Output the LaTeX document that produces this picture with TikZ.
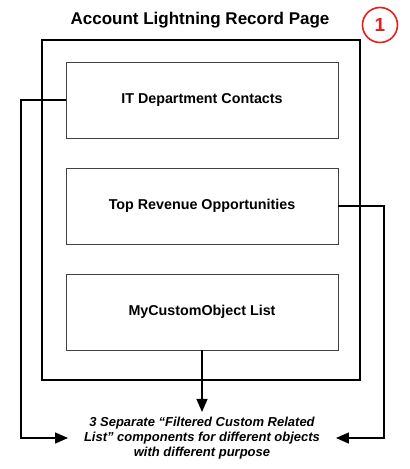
\documentclass[tikz,border=0pt]{standalone}
\usepackage{fontspec}
\setmainfont{Liberation Sans}
\usetikzlibrary{arrows.meta}
\definecolor{mred}{RGB}{230,30,30}
\begin{document}
\begin{tikzpicture}[x=1pt,y=-1pt,
  comp/.style={draw=black!75,line width=0.8pt,minimum width=272pt,minimum height=76pt,font=\bfseries\fontsize{14.3}{16}\selectfont},
  conn/.style={line width=1.3pt,-{Triangle[length=13pt,width=11pt]}}]
\useasboundingbox (0,0) rectangle (410,469);
\node[font=\bfseries\fontsize{17}{20}\selectfont] (title) at (200,20) {Account Lightning Record Page};
\node[circle,draw=mred,line width=1.6pt,minimum size=35pt,inner sep=0pt,text=mred,font=\bfseries\fontsize{19}{21}\selectfont] (num) at (380,25) {1};
\node[draw,line width=2.6pt,minimum width=318pt,minimum height=340pt] (page) at (201,210) {};
\node[comp] (b1) at (202,100) {IT Department Contacts};
\node[comp] (b2) at (202,206) {Top Revenue Opportunities};
\node[comp] (b3) at (202,312) {MyCustomObject List};
\node[align=center,inner sep=1pt,outer xsep=15pt,outer ysep=4pt,font=\bfseries\itshape\fontsize{13}{15}\selectfont] (note) at (202,438) {3 Separate “Filtered Custom Related\\List” components for different objects\\with different purpose};
\coordinate (l1) at (21,100);
\coordinate (l2) at (21,438);
\coordinate (r1) at (384,206);
\coordinate (r2) at (384,438);
\draw[conn] (b1.west) -- (l1) -- (l2) -- (note.west);
\draw[conn] (b2.east) -- (r1) -- (r2) -- (note.east);
\draw[conn] (b3.south) -- (note.north);
\end{tikzpicture}
\end{document}
